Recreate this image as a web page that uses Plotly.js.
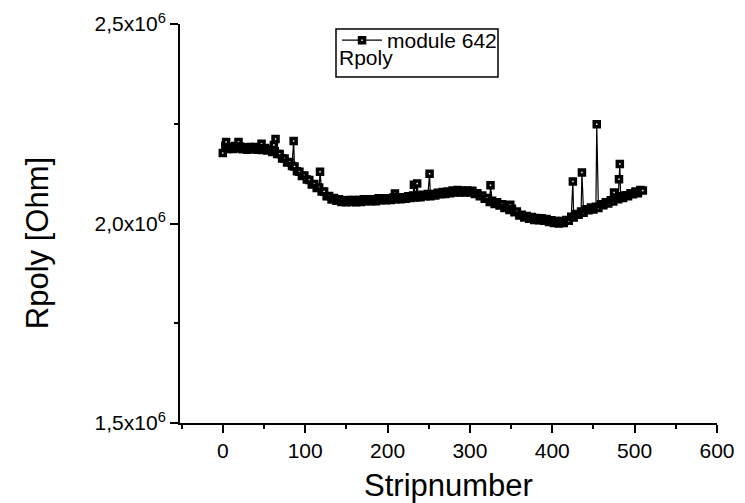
<!DOCTYPE html>
<html>
<head>
<meta charset="utf-8">
<script src="https://cdn.plot.ly/plotly-3.0.1.min.js"></script>
<style>html,body{margin:0;padding:0;background:#fff}#chart{width:745px;height:503px}</style>
</head>
<body>
<div id="chart"></div>
<script>
const stripNumber = [
  0,3,4,6,9,12,15,18,19,21,
  24,27,30,33,36,39,42,45,47,48,
  51,54,57,60,62,63,64,66,69,72,
  75,78,81,84,86,87,90,93,96,99,
  102,105,108,111,114,117,118,120,123,126,
  129,132,135,138,141,144,147,150,153,156,
  159,162,165,168,171,174,177,180,183,186,
  189,192,195,198,201,204,207,209,210,213,
  216,219,222,225,228,231,232,234,236,237,
  240,243,246,249,251,252,255,258,261,264,
  267,270,273,276,279,282,285,288,291,294,
  297,300,303,306,309,312,315,318,321,324,
  325,327,330,333,336,339,342,345,348,349,
  351,354,357,360,363,366,369,372,375,378,
  381,384,387,390,393,396,399,402,405,408,
  411,414,417,420,423,425,426,429,432,435,
  436,438,441,444,447,450,453,454,456,459,
  462,465,468,471,474,475,477,480,481,482,
  483,486,489,492,495,498,501,504,507,510
];
const rpolyOhm = [
  2177e3,2195e3,2204e3,2187e3,2192e3,2187e3,2194e3,2188e3,2204e3,2193e3,
  2186e3,2191e3,2185e3,2192e3,2186e3,2192e3,2185e3,2189e3,2200e3,2184e3,
  2189e3,2183e3,2187e3,2179e3,2197e3,2181e3,2212e3,2174e3,2174e3,2163e3,
  2163e3,2153e3,2154e3,2144e3,2207e3,2143e3,2131e3,2130e3,2119e3,2120e3,
  2110e3,2109e3,2098e3,2099e3,2089e3,2090e3,2130e3,2080e3,2080e3,2068e3,
  2069e3,2060e3,2064e3,2057e3,2061e3,2054e3,2058e3,2053e3,2059e3,2054e3,
  2059e3,2053e3,2059e3,2054e3,2061e3,2056e3,2061e3,2056e3,2061e3,2056e3,
  2063e3,2058e3,2063e3,2058e3,2063e3,2059e3,2065e3,2075e3,2061e3,2066e3,
  2061e3,2066e3,2062e3,2068e3,2064e3,2070e3,2097e3,2065e3,2100e3,2070e3,
  2066e3,2072e3,2068e3,2074e3,2125e3,2068e3,2074e3,2070e3,2077e3,2073e3,
  2079e3,2074e3,2080e3,2076e3,2083e3,2078e3,2084e3,2078e3,2083e3,2078e3,
  2083e3,2078e3,2082e3,2074e3,2076e3,2068e3,2070e3,2062e3,2064e3,2054e3,
  2096e3,2057e3,2049e3,2053e3,2045e3,2048e3,2039e3,2042e3,2034e3,2047e3,
  2037e3,2028e3,2030e3,2020e3,2022e3,2015e3,2019e3,2012e3,2016e3,2009e3,
  2014e3,2008e3,2013e3,2007e3,2011e3,2004e3,2008e3,2001e3,2006e3,2000e3,
  2006e3,2001e3,2009e3,2007e3,2017e3,2105e3,2015e3,2024e3,2022e3,2030e3,
  2128e3,2027e3,2036e3,2033e3,2040e3,2035e3,2042e3,2249e3,2039e3,2048e3,
  2046e3,2053e3,2050e3,2058e3,2055e3,2078e3,2064e3,2061e3,2111e3,2149e3,
  2068e3,2064e3,2071e3,2068e3,2076e3,2073e3,2080e3,2076e3,2084e3,2083e3
];
const yTickVals = [1.5e6, 2.0e6, 2.5e6];
const yTickText = ['1,5x10<sup>6</sup>', '2,0x10<sup>6</sup>', '2,5x10<sup>6</sup>'];
const yMinorVals = [1.75e6, 2.25e6];
const seriesName = 'module 642';
const seriesSubLabel = 'Rpoly';
const xTitle = 'Stripnumber';
const yTitle = 'Rpoly [Ohm]';

const FONT = 'Liberation Sans, Arial, sans-serif';
const trace = {
  x: stripNumber, y: rpolyOhm, type: 'scatter', mode: 'lines+markers', name: seriesName,
  line: {color: '#000', width: 1.2},
  marker: {symbol: 'square', size: 5, color: '#fff', line: {color: '#000', width: 3.5}}
};
const layout = {
  width: 745, height: 503,
  margin: {l: 180, r: 28, t: 24, b: 80},
  paper_bgcolor: '#fff', plot_bgcolor: '#fff',
  font: {family: FONT, color: '#000'},
  showlegend: true,
  legend: {x: 0.2924, y: 1.01, xanchor: 'left', yanchor: 'top', bgcolor: 'rgba(0,0,0,0)',
           borderwidth: 0, font: {family: FONT, size: 21, color: '#000'},
           itemwidth: 40},
  shapes: [{type: 'rect', xref: 'paper', yref: 'paper', x0: 0.2905, x1: 0.5922, y0: 0.8672, y1: 0.9875,
            line: {color: '#000', width: 1.5}, fillcolor: 'rgba(0,0,0,0)', layer: 'above'}],
  annotations: [
    {text: seriesSubLabel, xref: 'paper', yref: 'paper', x: 0.2924, y: 0.915, xanchor: 'left', yanchor: 'middle',
     showarrow: false, font: {family: FONT, size: 21, color: '#000'}},
    {text: yTitle, xref: 'paper', yref: 'paper', x: -0.266, y: 0.451, xanchor: 'center', yanchor: 'middle',
     textangle: -90, showarrow: false, font: {family: FONT, size: 31, color: '#000'}}
  ],
  xaxis: {
    range: [-52, 600], showgrid: false, zeroline: false,
    showline: true, linecolor: '#000', linewidth: 2, mirror: false,
    ticks: 'outside', ticklen: 8, tickwidth: 2, tickcolor: '#000',
    tickmode: 'linear', tick0: 0, dtick: 100,
    minor: {ticks: 'outside', ticklen: 4, tickwidth: 2, tickcolor: '#000', dtick: 50, tick0: 0, showgrid: false},
    tickfont: {family: FONT, size: 21, color: '#000'},
    title: {text: xTitle, font: {family: FONT, size: 31, color: '#000'}, standoff: 13}
  },
  yaxis: {
    range: [1.5e6, 2.5e6], showgrid: false, zeroline: false,
    showline: true, linecolor: '#000', linewidth: 2, mirror: false,
    ticks: 'outside', ticklen: 8, tickwidth: 2, tickcolor: '#000',
    tickmode: 'array', tickvals: yTickVals, ticktext: yTickText,
    minor: {ticks: 'outside', ticklen: 4, tickwidth: 2, tickcolor: '#000', tickmode: 'array', tickvals: yMinorVals, showgrid: false},
    tickfont: {family: FONT, size: 21, color: '#000'}
  }
};
Plotly.newPlot('chart', [trace], layout, {displayModeBar: false, staticPlot: true});
</script>
</body>
</html>
